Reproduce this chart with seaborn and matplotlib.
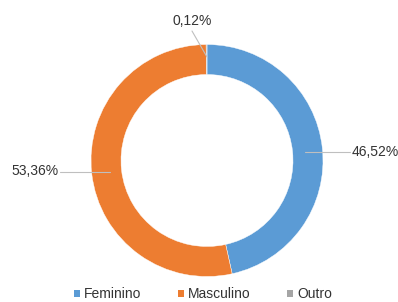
import matplotlib
matplotlib.use("Agg")
import matplotlib.pyplot as plt
import seaborn as sns
from matplotlib.patches import Patch

categories = ["Feminino", "Masculino", "Outro"]
percentages = [46.52, 53.36, 0.12]
label_text = ["46,52%", "53,36%", "0,12%"]
colors = sns.color_palette(["#5B9BD5", "#ED7D31", "#A5A5A5"])

sns.set_theme(style="white")
plt.rcParams["font.family"] = ["Liberation Sans", "DejaVu Sans"]

W, H = 398, 302
fig = plt.figure(figsize=(W / 100, H / 100), dpi=100)
ax = fig.add_axes([0, 0, 1, 1])

# ring centre/radius in pixel units (y measured from bottom)
cx, cy, r = 207, H - 160.5, 116
wedges, _ = ax.pie(
    percentages,
    colors=colors,
    startangle=90,
    counterclock=False,
    center=(cx, cy),
    radius=r,
    wedgeprops=dict(width=30, edgecolor="white", linewidth=0.3),
)
ax.set_xlim(0, W)
ax.set_ylim(0, H)
ax.set_aspect("auto")
ax.axis("off")

# labels with leader lines (text pos, line start, line end)
label_pos = [(375, 152), (35, 171), (192, 21)]
line_start = [(350, 152), (60, 172), (192, 31)]
line_end = [(305, 152), (110, 172), (207, 57)]
for txt, (tx, ty), (sx, sy), (ex, ey) in zip(label_text, label_pos, line_start, line_end):
    ax.plot([sx, ex], [H - sy, H - ey], color="#bfbfbf", lw=0.8)
    ax.text(tx, H - ty, txt, ha="center", va="center", fontsize=10, color="#333333")

handles = [Patch(facecolor=c, edgecolor="none") for c in colors]
leg = fig.legend(
    handles, categories,
    loc="center", bbox_to_anchor=(203 / W, (H - 294.5) / H),
    ncol=3, frameon=False, fontsize=10,
    handlelength=0.45, handleheight=0.45, handletextpad=0.3,
    columnspacing=2.6, borderaxespad=0, borderpad=0,
)
for t in leg.get_texts():
    t.set_color("#333333")

fig.savefig("out.png", dpi=100)
